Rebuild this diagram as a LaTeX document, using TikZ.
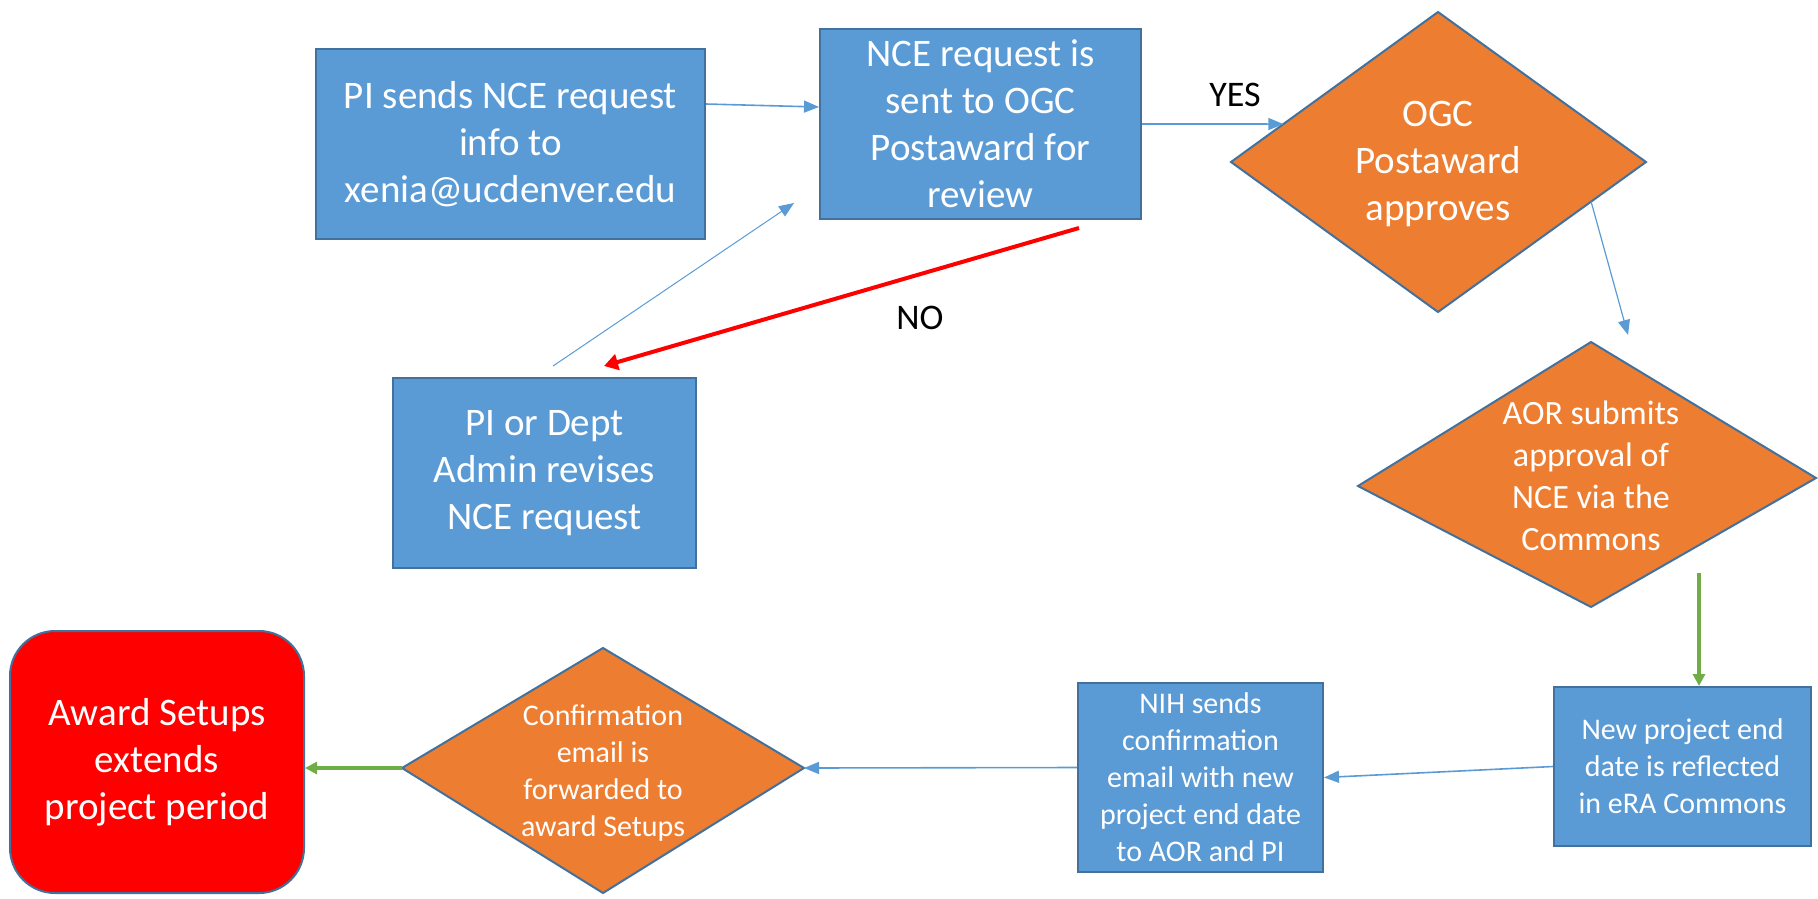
\documentclass[tikz,border=0pt]{standalone}
\usepackage{fontspec}
\setmainfont{Carlito}
\usetikzlibrary{arrows.meta,calc}
\definecolor{boxblue}{HTML}{5B9BD5}
\definecolor{edgeblue}{HTML}{41719C}
\definecolor{orangefill}{HTML}{ED7D31}
\definecolor{arrowgreen}{HTML}{70AD47}
\definecolor{redfill}{HTML}{FF0000}
\begin{document}
\begin{tikzpicture}[x=1pt,y=-1pt,
  bluebox/.style={draw=edgeblue,fill=boxblue,line width=2pt,text=white,align=center,inner sep=0pt},
  bigtext/.style={font=\fontsize{39}{47}\selectfont},
  midtext/.style={font=\fontsize{34}{42}\selectfont},
  smalltext/.style={font=\fontsize{30}{37}\selectfont},
  diamondshape/.style={draw=edgeblue,fill=orangefill,line width=2pt,line join=miter},
  difftext/.style={text=white,align=center,inner sep=0pt},
  labeltext/.style={text=black,font=\fontsize{36}{43}\selectfont,inner sep=0pt},
  bluearrow/.style={draw=boxblue,line width=1.2pt,-{Triangle[length=15pt,width=12pt]}},
  redarrow/.style={draw=redfill,line width=4pt,-{Triangle[length=14pt,width=16pt]}},
  greenarrow/.style={draw=arrowgreen,line width=4pt,-{Triangle[length=12pt,width=12pt]}}
]
\useasboundingbox (0,0) rectangle (1818,898);

% boxes
\node[bluebox,bigtext,minimum width=389pt,minimum height=190pt] (pisends) at (510.5,144)
  {PI sends NCE request\\info to\\xenia@ucdenver.edu};
\node[bluebox,bigtext,minimum width=321pt,minimum height=190pt] (review) at (980.5,124)
  {NCE request is\\sent to OGC\\Postaward for\\review};
\node[bluebox,bigtext,minimum width=303pt,minimum height=190pt] (dept) at (544.5,473)
  {PI or Dept\\Admin revises\\NCE request};
\node[bluebox,smalltext,minimum width=245pt,minimum height=189pt] (nih) at (1200.5,777.5)
  {NIH sends\\confirmation\\email with new\\project end date\\to AOR and PI};
\node[bluebox,smalltext,minimum width=257pt,minimum height=159pt] (newp) at (1682.5,766.5)
  {New project end\\date is reflected\\in eRA Commons};
\node[draw=edgeblue,fill=redfill,line width=2pt,rounded corners=45pt,text=white,align=center,
  inner sep=0pt,bigtext,minimum width=294pt,minimum height=262pt] (award) at (157,762)
  {Award Setups\\extends\\project period};

% OGC diamond
\coordinate (ogcL) at (1231,162);
\coordinate (ogcT) at (1438,12);
\coordinate (ogcR) at (1646,162);
\coordinate (ogcB) at (1438,312);
\path[diamondshape] (ogcL) -- (ogcT) -- (ogcR) -- (ogcB) -- cycle;
\node[difftext,bigtext] (ogc) at (1438,164) {OGC\\Postaward\\approves};

% AOR diamond
\coordinate (aorL) at (1358,486);
\coordinate (aorT) at (1591,342);
\coordinate (aorR) at (1816,478);
\coordinate (aorB) at (1591,607);
\path[diamondshape] (aorL) -- (aorT) -- (aorR) -- (aorB) -- cycle;
\node[difftext,midtext] (aor) at (1591,476) {AOR submits\\approval of\\NCE via the\\Commons};

% Confirmation diamond
\coordinate (confL) at (402,768);
\coordinate (confT) at (603,648);
\coordinate (confR) at (804,768);
\coordinate (confB) at (603,893);
\path[diamondshape] (confL) -- (confT) -- (confR) -- (confB) -- cycle;
\node[difftext,smalltext] (conf) at (603,773) {Confirmation\\email is\\forwarded to\\award Setups};

% connectors
\draw[bluearrow,line width=1.6pt] ([yshift=40pt]pisends.east) -- ([yshift=17pt]review.west);
\draw[bluearrow,line width=1.6pt] (review.east) -- ($(ogcL)!0.253!(ogcT)$);
\node[labeltext] (yes) at (1235,95) {YES};

\coordinate (aorin) at (1628,335);
\draw[bluearrow] ($(ogcR)!0.264!(ogcB)$) -- (aorin);

\coordinate (greenstart) at (1699,573);
\draw[greenarrow] (greenstart) -- (greenstart |- newp.north);

\draw[bluearrow,line width=1.6pt] (newp.west) -- (nih.east);
\draw[bluearrow,line width=1.6pt] ([yshift=10pt]nih.west) -- (confR);
\draw[greenarrow] (confL) -- (confL -| award.east);

\coordinate (revtip) at (794,203);
\draw[bluearrow,line width=1pt] ($(dept.north)+(8.5,-11)$) -- (revtip);
\draw[redarrow] ($(review.south)+(98.5,8)$) -- ($(dept.north)+(59.5,-11)$);
\node[labeltext] (no) at (920,318) {NO};
\end{tikzpicture}
\end{document}
